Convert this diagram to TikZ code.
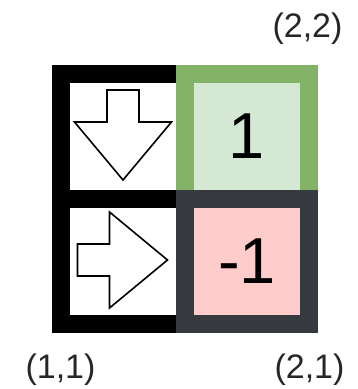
\documentclass[tikz,border=0pt]{standalone}
\usepackage{fontspec}
\setmainfont{Liberation Sans}
\definecolor{gborder}{HTML}{82B366}
\definecolor{gfill}{HTML}{D5E8D4}
\definecolor{dborder}{HTML}{36393D}
\definecolor{pfill}{HTML}{FFCCCC}
\tikzset{
  cell/.style={rectangle, inner sep=0pt, outer sep=0pt, minimum width=124pt, minimum height=125pt, line width=18pt, font=\fontsize{65}{70}\selectfont},
  arrowshape/.style={draw=black, line width=1.6pt, line join=miter, fill=white},
  coordlabel/.style={font=\fontsize{34}{40}\selectfont, text=black!85}
}
\begin{document}
\begin{tikzpicture}[x=1pt,y=-1pt]
\useasboundingbox (0,0) rectangle (357,389);
\node[cell, draw=black, fill=white] (tl) at (123, 136.5) {};
\node[cell, draw=black, fill=white] (bl) at (123, 261.5) {};
\node[cell, draw=gborder, fill=gfill] (tr) at (247, 136.5) {1};
\node[cell, draw=dborder, fill=pfill] (br) at (247, 261.5) {-1};
% down arrow
\draw[arrowshape, shift={(tl.center)}] (-16,-46.5) -- (16,-46.5) -- (16,-14.5) -- (48.5,-14.5) -- (0,43.5) -- (-48.5,-14.5) -- (-16,-14.5) -- cycle;
% right arrow
\draw[arrowshape, shift={(bl.center)}] (-45.5,-17.5) -- (-13.5,-17.5) -- (-13.5,-49.5) -- (44.5,-1.5) -- (-13.5,46.5) -- (-13.5,14.5) -- (-45.5,14.5) -- cycle;
\node[coordlabel] (l22) at (307.5, 29) {(2,2)};
\node[coordlabel] (l11) at (60.5, 369.5) {(1,1)};
\node[coordlabel] (l21) at (309.5, 369.5) {(2,1)};
\end{tikzpicture}
\end{document}
